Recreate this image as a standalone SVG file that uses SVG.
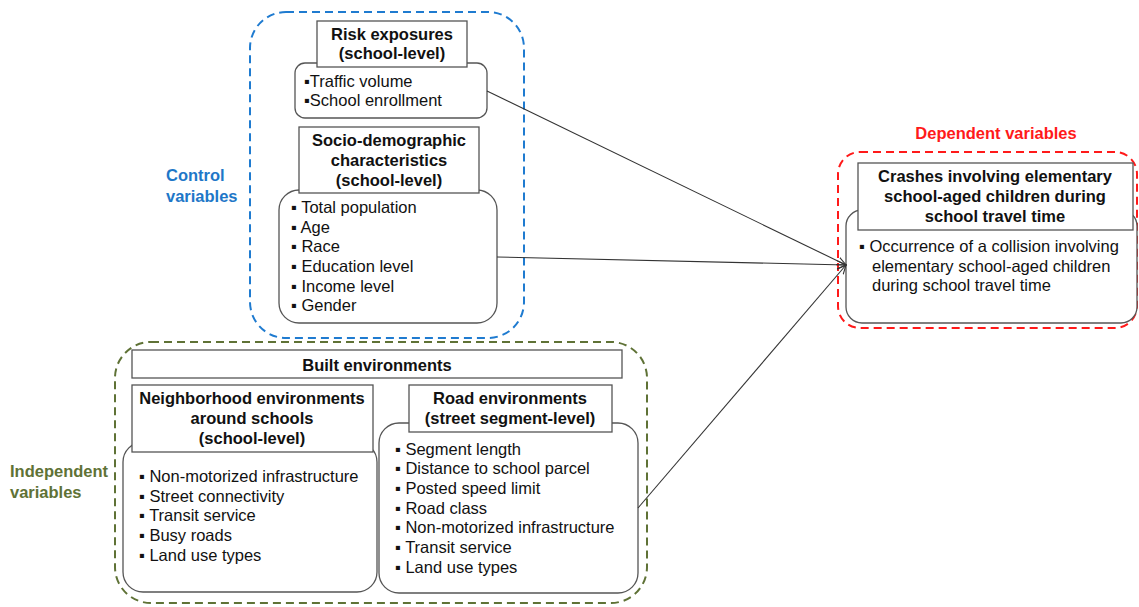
<svg xmlns="http://www.w3.org/2000/svg" width="1139" height="607" viewBox="0 0 1139 607">
<style>
text{font-family:"Liberation Sans",Arial,sans-serif;font-size:16.5px;fill:#111}
.t{font-weight:bold;text-anchor:middle}
.lab{font-weight:bold}
.body{fill:#fff;stroke:#555;stroke-width:1.3}
.ttl{fill:#fff;stroke:#555;stroke-width:1.3}
.grp{fill:none;stroke-width:2;stroke-dasharray:8 5}
.con{stroke:#333;stroke-width:1.1;fill:none;marker-end:url(#ah)}
</style>
<defs>
<marker id="ah" viewBox="0 0 10 10" refX="9" refY="5" markerWidth="10" markerHeight="10" markerUnits="userSpaceOnUse" orient="auto">
<path d="M0,1 L9,5 L0,9" fill="none" stroke="#333" stroke-width="1.1"/>
</marker>
</defs>
<g id="groups">
<rect x="250" y="12" width="274" height="326" rx="36" class="grp" stroke="#1f7bd0"/>
<rect x="115" y="342" width="532" height="261" rx="36" class="grp" stroke="#5f7236"/>
<rect x="838" y="152" width="299" height="176" rx="22" class="grp" stroke="#ff1a1a"/>
<text x="166" y="181" class="lab" style="fill:#1e77c8">Control</text>
<text x="166" y="202" class="lab" style="fill:#1e77c8">variables</text>
<text x="10" y="477" class="lab" style="fill:#5f7236">Independent</text>
<text x="10" y="498" class="lab" style="fill:#5f7236">variables</text>
<text x="996" y="139" class="t" style="fill:#ff1a1a">Dependent variables</text>
</g>
<g id="risk">
<rect x="295" y="63" width="192" height="55" rx="10" class="body"/>
<rect x="317" y="21" width="150" height="46" class="ttl"/>
<text x="392" y="40" class="t">Risk exposures</text>
<text x="392" y="59" class="t">(school-level)</text>
<text x="304" y="87">▪Traffic volume</text>
<text x="304" y="106">▪School enrollment</text>
</g>
<g id="socio">
<rect x="279" y="190" width="218" height="133" rx="20" class="body"/>
<rect x="299" y="127" width="180" height="66" class="ttl"/>
<text x="389" y="146" class="t">Socio-demographic</text>
<text x="389" y="166" class="t">characteristics</text>
<text x="389" y="186" class="t">(school-level)</text>
<text x="291" y="213">▪ Total population</text>
<text x="291" y="233">▪ Age</text>
<text x="291" y="252">▪ Race</text>
<text x="291" y="272">▪ Education level</text>
<text x="291" y="292">▪ Income level</text>
<text x="291" y="311">▪ Gender</text>
</g>
<g id="dependent">
<rect x="846" y="210" width="291" height="113" rx="16" class="body"/>
<rect x="858" y="163" width="275" height="67" class="ttl"/>
<text x="995" y="182" class="t">Crashes involving elementary</text>
<text x="995" y="202" class="t">school-aged children during</text>
<text x="995" y="222" class="t">school travel time</text>
<text x="859" y="252">▪ Occurrence of a collision involving</text>
<text x="872" y="272">elementary school-aged children</text>
<text x="872" y="291">during school travel time</text>
</g>
<g id="built">
<rect x="132" y="350" width="490" height="28" class="ttl"/>
<text x="377" y="371" class="t">Built environments</text>
</g>
<g id="neighborhood">
<rect x="123" y="442" width="254" height="150" rx="20" class="body"/>
<rect x="132" y="385" width="241" height="67" class="ttl"/>
<text x="252" y="404" class="t">Neighborhood environments</text>
<text x="252" y="424" class="t">around schools</text>
<text x="252" y="444" class="t">(school-level)</text>
<text x="139" y="482">▪ Non-motorized infrastructure</text>
<text x="139" y="502">▪ Street connectivity</text>
<text x="139" y="521">▪ Transit service</text>
<text x="139" y="541">▪ Busy roads</text>
<text x="139" y="561">▪ Land use types</text>
</g>
<g id="road">
<rect x="379" y="423" width="259" height="170" rx="20" class="body"/>
<rect x="409" y="385" width="203" height="47" class="ttl"/>
<text x="510" y="404" class="t">Road environments</text>
<text x="510" y="424" class="t">(street segment-level)</text>
<text x="395" y="455">▪ Segment length</text>
<text x="395" y="474">▪ Distance to school parcel</text>
<text x="395" y="494">▪ Posted speed limit</text>
<text x="395" y="514">▪ Road class</text>
<text x="395" y="533">▪ Non-motorized infrastructure</text>
<text x="395" y="553">▪ Transit service</text>
<text x="395" y="573">▪ Land use types</text>
</g>
<g id="connectors">
<line x1="487" y1="91" x2="846" y2="265" class="con"/>
<line x1="497" y1="257" x2="846" y2="265" class="con"/>
<line x1="638" y1="508" x2="846" y2="265" class="con"/>
</g>
</svg>
